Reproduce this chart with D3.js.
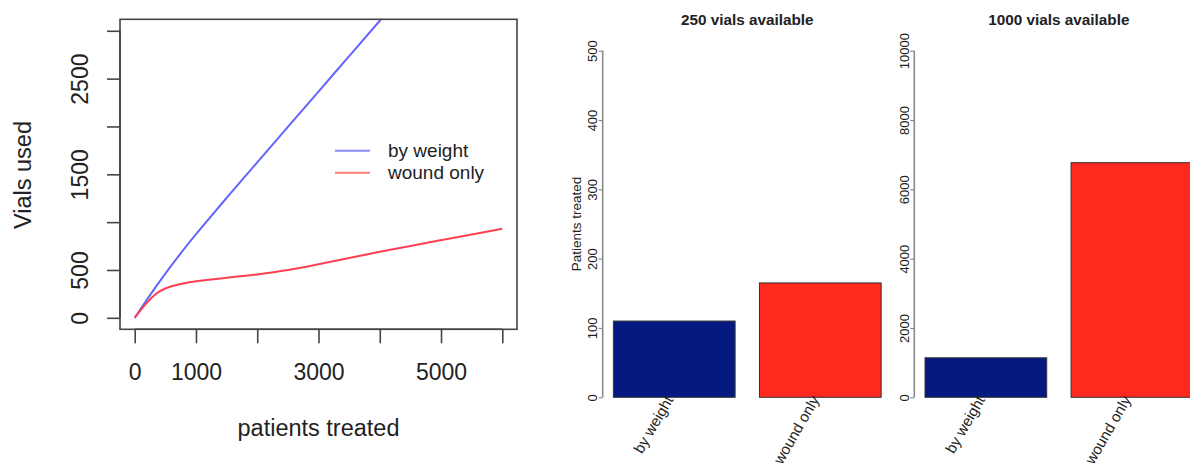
<!DOCTYPE html>
<html>
<head>
<meta charset="utf-8">
<script src="https://cdn.jsdelivr.net/npm/d3@7"></script>
<style>
  html, body { margin: 0; padding: 0; background: #fff; }
  svg { display: block; font-family: "Liberation Sans", Arial, sans-serif; }
</style>
</head>
<body>
<svg id="chart" width="1190" height="466"></svg>
<script>
// ---------- data ----------
const byWeightPatients = [0, 250, 500, 750, 1000, 1500, 2000, 2500, 3000, 3500, 4000, 4500, 5000, 5500, 6000];
const byWeightVials    = [0, 240, 465, 675, 875, 1255, 1625, 1995, 2365, 2735, 3105, 3475, 3845, 4215, 4585];
const woundPatients = [0, 100, 200, 350, 500, 700, 1000, 1500, 2000, 2500, 3000, 3500, 4000, 4500, 5000, 5500, 6000];
const woundVials    = [0, 85, 160, 258, 312, 348, 385, 418, 452, 495, 560, 625, 690, 752, 812, 872, 930];
const lineXTicks = [0, 1000, 2000, 3000, 4000, 5000, 6000];
const lineXLabels = [0, 1000, 3000, 5000];
const lineYTicks = [0, 500, 1000, 1500, 2000, 2500, 3000];
const lineYLabels = [0, 500, 1500, 2500];
const legendLabels = ["by weight", "wound only"];

const barCategories = ["by weight", "wound only"];
const panelTitles = ["250 vials available", "1000 vials available"];
const panelValues = [[110, 165], [1140, 6770]];
const panelMax = [500, 10000];
const panelTicks = [[0, 100, 200, 300, 400, 500], [0, 2000, 4000, 6000, 8000, 10000]];

const svg = d3.select("#chart");
const txt = "#222";

// ---------- left line chart ----------
const box = {x0: 120, x1: 517, y0: 19.3, y1: 329.3};
const x = d3.scaleLinear().domain([-240, 6240]).range([box.x0, box.x1]);
const y = d3.scaleLinear().domain([-120, 3120]).range([box.y1, box.y0]);

svg.append("defs").append("clipPath").attr("id", "clipL")
  .append("rect").attr("x", box.x0).attr("y", box.y0)
  .attr("width", box.x1 - box.x0).attr("height", box.y1 - box.y0);

const line = d3.line().curve(d3.curveBasis);
const gL = svg.append("g").attr("clip-path", "url(#clipL)");
gL.append("path")
  .attr("d", line(byWeightPatients.map((p, i) => [x(p), y(byWeightVials[i])])))
  .attr("fill", "none").attr("stroke", "#6464ff").attr("stroke-width", 2);
gL.append("path")
  .attr("d", line(woundPatients.map((p, i) => [x(p), y(woundVials[i])])))
  .attr("fill", "none").attr("stroke", "#ff4052").attr("stroke-width", 2);

svg.append("rect").attr("x", box.x0).attr("y", box.y0)
  .attr("width", box.x1 - box.x0).attr("height", box.y1 - box.y0)
  .attr("fill", "none").attr("stroke", "#444").attr("stroke-width", 1.6);

// x axis
const xAxis = d3.axisBottom(x).tickValues(lineXTicks).tickSize(14)
  .tickFormat(d => lineXLabels.includes(d) ? d : "");
const gx = svg.append("g").attr("transform", `translate(0,${box.y1})`).call(xAxis);
gx.select(".domain").attr("stroke", "#444").attr("stroke-width", 1.6)
  .attr("d", `M${x(0)},0H${x(6000)}`);
gx.selectAll(".tick line").attr("stroke", "#444").attr("stroke-width", 1.6);
gx.selectAll(".tick text").attr("y", 0).attr("dy", 0)
  .attr("transform", "translate(0,51)")
  .attr("fill", txt).style("font-size", "23px").style("font-family", "Liberation Sans, Arial, sans-serif");

// y axis
const yAxis = d3.axisLeft(y).tickValues(lineYTicks).tickSize(13)
  .tickFormat(d => lineYLabels.includes(d) ? d : "");
const gy = svg.append("g").attr("transform", `translate(${box.x0},0)`).call(yAxis);
gy.select(".domain").attr("stroke", "#444").attr("stroke-width", 1.6)
  .attr("d", `M0,${y(0)}V${y(3000)}`);
gy.selectAll(".tick line").attr("stroke", "#444").attr("stroke-width", 1.6);
gy.selectAll(".tick text").attr("x", 0).attr("dy", 0)
  .attr("transform", "translate(-32,0) rotate(-90)")
  .attr("text-anchor", "middle")
  .attr("fill", txt).style("font-size", "23px").style("font-family", "Liberation Sans, Arial, sans-serif");

// axis titles
svg.append("text").attr("transform", "translate(31,175) rotate(-90)")
  .attr("text-anchor", "middle").attr("fill", txt).style("font-size", "23.5px")
  .text("Vials used");
svg.append("text").attr("x", 318.5).attr("y", 436)
  .attr("text-anchor", "middle").attr("fill", txt).style("font-size", "23.5px")
  .text("patients treated");

// legend
const legColors = ["#8a8aff", "#ff7a7a"];
const legY = [150.7, 172.7];
legendLabels.forEach((lab, i) => {
  svg.append("line").attr("x1", 335).attr("x2", 370).attr("y1", legY[i]).attr("y2", legY[i])
    .attr("stroke", legColors[i]).attr("stroke-width", 2);
  svg.append("text").attr("x", 388).attr("y", legY[i]).attr("dy", "0.35em")
    .attr("fill", txt).style("font-size", "19px").text(lab);
});

// ---------- bar panels ----------
const panelAxisX = [602.7, 914.3];
const unitPx = 121.7;
const barColors = ["#041a80", "#ff291e"];

panelTitles.forEach((title, pi) => {
  const ax = panelAxisX[pi];
  const xb = d3.scaleLinear().domain([0.112, 1.2]).range([ax, ax + unitPx * (1.2 - 0.112)]);
  const yb = d3.scaleLinear().domain([0, panelMax[pi]]).range([397.3, 50.7]);
  const g = svg.append("g");

  panelValues[pi].forEach((v, i) => {
    const left = 0.2 + i * 1.2;
    g.append("rect")
      .attr("x", xb(left)).attr("y", yb(v))
      .attr("width", xb(left + 1) - xb(left)).attr("height", yb(0) - yb(v))
      .attr("fill", barColors[i]).attr("stroke", "#333").attr("stroke-width", 1);
  });
  barCategories.forEach((c, i) => {
    const left = 0.2 + i * 1.2;
    g.append("text")
      .attr("transform", `translate(${xb(left + 0.5) - 5},397) rotate(-60)`)
      .attr("text-anchor", "end").attr("dy", "0.35em")
      .attr("fill", txt).style("font-size", "15px")
      .text(c);
  });

  const axisB = d3.axisLeft(yb).tickValues(panelTicks[pi]).tickSize(4).tickFormat(d => d);
  const ga = g.append("g").attr("transform", `translate(${ax},0)`).call(axisB);
  ga.select(".domain").attr("stroke", "#8a8a8a").attr("stroke-width", 1.6)
    .attr("d", `M0,${yb(0)}V${yb(panelMax[pi])}`);
  ga.selectAll(".tick line").attr("stroke", "#8a8a8a").attr("stroke-width", 1.2);
  ga.selectAll(".tick text").attr("x", 0).attr("dy", 0)
    .attr("transform", "translate(-5.5,0) rotate(-90)")
    .attr("text-anchor", "middle").attr("fill", txt)
    .style("font-size", "13px").style("font-family", "Liberation Sans, Arial, sans-serif");

  g.append("text")
    .attr("x", (xb(0.112) + xb(2.488)) / 2).attr("y", 24.5)
    .attr("text-anchor", "middle").attr("fill", txt)
    .style("font-size", "15.3px").style("font-weight", "bold")
    .text(title);

  if (pi === 0) {
    g.append("text").attr("transform", "translate(581,224) rotate(-90)")
      .attr("text-anchor", "middle").attr("fill", txt).style("font-size", "13.5px")
      .text("Patients treated");
  }
});
</script>
</body>
</html>
